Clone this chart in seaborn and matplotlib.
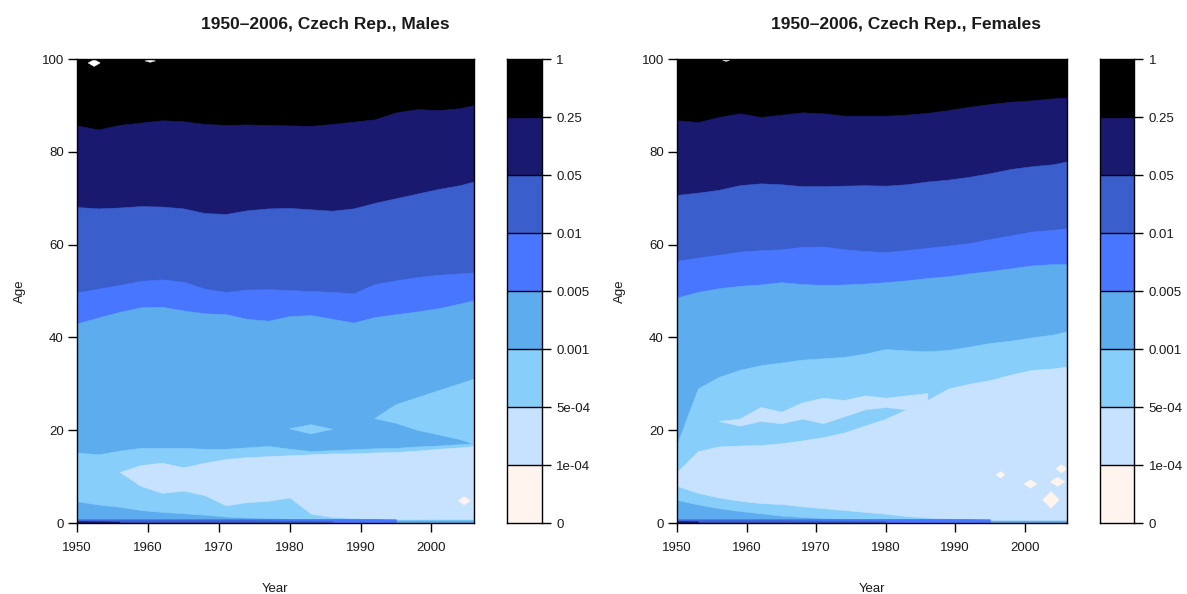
import numpy as np
import matplotlib
matplotlib.use("Agg")
import matplotlib.pyplot as plt
from matplotlib.colors import ListedColormap
import seaborn as sns

sns.set_style("white")
plt.rcParams["font.family"] = ["Liberation Sans", "DejaVu Sans"]

# ---------------------------------------------------------------------------
# Mortality-rate classes (lowest to highest) and their fill colours
level_labels = ["0", "1e-04", "5e-04", "0.001", "0.005", "0.01", "0.05", "0.25", "1"]
level_colors = ["#FFF5EE", "#C6E2FF", "#87CEFA", "#5CACEE",
                "#4876FF", "#3A5FCD", "#191970", "#000000"]

years = [1950, 1953, 1956, 1959, 1962, 1965, 1968, 1971, 1974, 1977,
         1980, 1983, 1986, 1989, 1992, 1995, 1998, 2001, 2004, 2006]
nan = np.nan

# ---- Males: age at which each rate class begins (per year) --------------
m_black_lo = [85.7, 84.8, 85.8, 86.3, 86.8, 86.6, 86.0, 85.8, 85.9, 85.8,
              85.7, 85.6, 86.0, 86.5, 87.0, 88.5, 89.2, 89.0, 89.4, 90.1]
m_mid_lo = [68.1, 67.8, 68.0, 68.3, 68.2, 67.8, 66.8, 66.6, 67.4, 67.8,
            67.9, 67.6, 67.3, 67.8, 69.0, 70.0, 71.0, 72.0, 72.8, 73.6]
m_rb3_lo = [49.7, 50.5, 51.3, 52.2, 52.5, 52.0, 50.5, 49.8, 50.3, 50.4,
            50.2, 50.0, 49.8, 49.5, 51.5, 52.3, 53.0, 53.5, 53.8, 54.0]
m_rb1_lo = [43.0, 44.3, 45.5, 46.5, 46.6, 45.8, 45.2, 45.0, 44.0, 43.6,
            44.6, 44.8, 44.0, 43.2, 44.4, 45.0, 45.6, 46.3, 47.3, 48.0]
# youth band, 5e-04 .. 0.001
m_lsb_lo = [4.7, 4.0, 3.5, 2.8, 2.4, 2.1, 1.8, 1.4, 1.2, 1.1,
            0.9, 0.8, 0.7, 0.7, 0.7, 0.7, 0.7, 0.7, 0.7, 0.7]
m_lsb_hi = [15.2, 14.8, 15.6, 16.2, 16.2, 16.2, 16.0, 16.0, 16.3, 16.6,
            16.0, 15.5, 15.7, 15.9, 16.1, 16.2, 16.5, 16.7, 17.0, 17.2]
# young-adult patches, 5e-04 .. 0.001
m_lsb2_lo = [nan, nan, nan, nan, nan, nan, nan, nan, nan, nan,
             20.3, 19.2, 20.2, nan, 22.5, 21.5, 20.0, 19.0, 18.0, 17.0]
m_lsb2_hi = [nan, nan, nan, nan, nan, nan, nan, nan, nan, nan,
             20.3, 21.2, 20.2, nan, 22.5, 25.5, 27.0, 28.5, 30.0, 31.0]
# childhood band, 1e-04 .. 5e-04
m_lb_lo = [nan, nan, 11.0, 8.0, 6.5, 7.0, 6.0, 3.8, 4.5, 4.8,
           5.5, 2.0, 1.3, 1.1, 0.9, 0.8, 0.8, 0.9, 0.9, 0.9]
m_lb_hi = [nan, nan, 11.0, 12.5, 13.0, 12.0, 13.0, 13.8, 14.2, 14.4,
           14.6, 14.8, 15.0, 15.0, 15.2, 15.3, 15.6, 16.0, 16.3, 16.6]
m_lb2_lo = [nan] * 20
m_lb2_hi = [nan] * 20
# infant strip (age 0) for the three darker classes
m_inf_rb1 = [0.9, 0.9, 0.9, 0.9, 0.9, 0.9, 0.9, 0.9, 0.9, 0.9,
             0.9, 0.9, 0.9, 0.9, 0.9, 0.8, nan, nan, nan, nan]
m_inf_rb3 = [0.6, 0.6, 0.6, 0.6, 0.6, 0.6, 0.6, 0.6, 0.6, 0.55,
             0.5, 0.5, 0.4, nan, nan, nan, nan, nan, nan, nan]
m_inf_mid = [0.4, 0.35, 0.3, nan, nan, nan, nan, nan, nan, nan,
             nan, nan, nan, nan, nan, nan, nan, nan, nan, nan]
# isolated cells below 1e-04: (first year, last year, age from, age to)
m_low_cells = [(2003.7, 2005.4, 4.0, 5.8)]
# cells without data at the oldest ages
m_missing_cells = [(1951.5, 1953.2, 98.5, 100.0), (1959.5, 1961.0, 99.4, 100.0)]

# ---- Females --------------------------------------------------------------
f_black_lo = [86.8, 86.4, 87.5, 88.3, 87.5, 88.0, 88.5, 88.3, 87.8, 87.8,
              87.8, 88.0, 88.4, 89.0, 89.7, 90.3, 90.8, 91.1, 91.5, 91.7]
f_mid_lo = [70.7, 71.2, 71.8, 72.8, 73.2, 73.0, 72.6, 72.6, 72.7, 72.8,
            72.7, 73.0, 73.6, 74.0, 74.6, 75.4, 76.3, 76.9, 77.3, 77.9]
f_rb3_lo = [56.5, 57.2, 57.8, 58.5, 58.8, 59.0, 59.5, 59.6, 59.0, 58.6,
            58.4, 58.8, 59.3, 59.8, 60.3, 61.2, 62.0, 62.8, 63.2, 63.5]
f_rb1_lo = [48.6, 49.8, 50.6, 51.1, 51.4, 51.9, 51.5, 51.3, 51.4, 51.6,
            51.9, 52.3, 52.8, 53.2, 53.8, 54.3, 54.9, 55.5, 55.8, 55.8]
f_lsb_lo = [5.0, 4.0, 3.2, 2.6, 2.1, 1.6, 1.3, 1.1, 0.9, 0.8,
            0.7, 0.7, 0.7, 0.7, 0.7, 0.7, 0.7, 0.7, 0.7, 0.7]
f_lsb_hi = [17.0, 29.0, 31.5, 33.0, 34.0, 34.6, 35.2, 35.5, 35.8, 36.5,
            37.5, 37.2, 37.0, 37.3, 38.0, 38.8, 39.3, 40.0, 40.6, 41.3]
f_lsb2_lo = [nan] * 20
f_lsb2_hi = [nan] * 20
f_lb_lo = [8.0, 6.5, 5.5, 4.8, 4.3, 4.1, 3.6, 3.2, 2.8, 2.4,
           2.0, 1.5, 1.2, 1.0, 0.8, 0.7, 0.7, 0.7, 0.7, 0.7]
f_lb_hi = [11.0, 15.5, 16.5, 16.7, 16.8, 17.2, 17.8, 18.5, 19.5, 21.0,
           22.5, 24.5, 26.5, 29.0, 30.0, 30.8, 32.0, 33.0, 33.3, 33.7]
# scattered 1e-04 .. 5e-04 cells among ages 20-28
f_lb2_lo = [nan, nan, 22.0, 21.0, 22.0, 21.5, 22.5, 21.5, 23.0, 24.5,
            25.0, 24.5, 26.5, nan, nan, nan, nan, nan, nan, nan]
f_lb2_hi = [nan, nan, 22.0, 22.5, 25.0, 24.0, 26.0, 27.0, 26.5, 27.5,
            27.0, 27.5, 28.0, nan, nan, nan, nan, nan, nan, nan]
f_inf_rb1 = [0.9, 0.9, 0.9, 0.9, 0.9, 0.9, 0.9, 0.9, 0.9, 0.9,
             0.9, 0.9, 0.9, 0.9, 0.9, 0.8, nan, nan, nan, nan]
f_inf_rb3 = [0.6, 0.6, 0.6, 0.6, 0.6, 0.6, 0.55, 0.5, 0.5, 0.45,
             0.4, nan, nan, nan, nan, nan, nan, nan, nan, nan]
f_inf_mid = [0.4, 0.35, nan, nan, nan, nan, nan, nan, nan, nan,
             nan, nan, nan, nan, nan, nan, nan, nan, nan, nan]
f_low_cells = [(1995.8, 1997.1, 9.8, 11.2), (1999.8, 2001.7, 7.6, 9.4),
               (2002.5, 2004.9, 3.3, 6.9), (2003.6, 2005.7, 8.0, 10.0),
               (2004.4, 2006.0, 10.9, 12.7)]
f_missing_cells = [(1956.5, 1957.5, 99.6, 100.0)]

males = dict(black=m_black_lo, mid=m_mid_lo, rb3=m_rb3_lo, rb1=m_rb1_lo,
             lsb=(m_lsb_lo, m_lsb_hi), lsb2=(m_lsb2_lo, m_lsb2_hi),
             lb=(m_lb_lo, m_lb_hi), lb2=(m_lb2_lo, m_lb2_hi),
             inf=(m_inf_rb1, m_inf_rb3, m_inf_mid),
             low=m_low_cells, missing=m_missing_cells)
females = dict(black=f_black_lo, mid=f_mid_lo, rb3=f_rb3_lo, rb1=f_rb1_lo,
               lsb=(f_lsb_lo, f_lsb_hi), lsb2=(f_lsb2_lo, f_lsb2_hi),
               lb=(f_lb_lo, f_lb_hi), lb2=(f_lb2_lo, f_lb2_hi),
               inf=(f_inf_rb1, f_inf_rb3, f_inf_mid),
               low=f_low_cells, missing=f_missing_cells)

TXT = "#1a1a1a"
TICK_FS = 9.5


def band(ax, lo, hi, color):
    lo = np.asarray(lo, float)
    hi = np.asarray(hi, float)
    ax.fill_between(years, lo, hi, color=color, lw=0.4, ec=color)


def cell(ax, x0, x1, y0, y1, color):
    xs = [x0, (x0 + x1) / 2, x1]
    ax.fill_between(xs, [(y0 + y1) / 2, y0, (y0 + y1) / 2],
                    [(y0 + y1) / 2, y1, (y0 + y1) / 2], color=color, lw=0.3, ec=color)


def draw_surface(ax, d, title, title_x):
    zeros = [0.0] * len(years)
    # stacked from the top class down so the layers share their edges
    band(ax, zeros, [100.0] * len(years), level_colors[7])
    band(ax, zeros, d["black"], level_colors[6])
    band(ax, zeros, d["mid"], level_colors[5])
    band(ax, zeros, d["rb3"], level_colors[4])
    band(ax, zeros, d["rb1"], level_colors[3])
    band(ax, *d["lsb"], level_colors[2])
    band(ax, *d["lsb2"], level_colors[2])
    band(ax, *d["lb"], level_colors[1])
    band(ax, *d["lb2"], level_colors[1])
    for c in d["low"]:
        cell(ax, *c, level_colors[0])
    for c in d["missing"]:
        cell(ax, *c, "white")
    rb1, rb3, mid = d["inf"]
    band(ax, zeros, rb1, level_colors[4])
    band(ax, zeros, rb3, level_colors[5])
    band(ax, zeros, mid, level_colors[6])

    ax.set_xlim(1950, 2006)
    ax.set_ylim(0, 100)
    ax.set_xticks([1950, 1960, 1970, 1980, 1990, 2000])
    ax.set_yticks([0, 20, 40, 60, 80, 100])
    ax.tick_params(axis="both", direction="out", length=6.5, width=1,
                   color="black", labelsize=TICK_FS, labelcolor=TXT,
                   left=True, bottom=True)
    ax.tick_params(axis="x", pad=7)
    ax.tick_params(axis="y", pad=3)
    for s in ax.spines.values():
        s.set_visible(True)
        s.set_color("black")
        s.set_linewidth(1.0)
    ax.set_xlabel("Year", fontsize=TICK_FS, color=TXT, labelpad=21)
    ax.set_ylabel("Age", fontsize=TICK_FS, color=TXT, labelpad=11)
    fig.text(title_x, 1 - 24 / 594, title, ha="center", va="center",
             fontsize=12.5, fontweight="bold", color=TXT)


def draw_key(cax):
    key = np.arange(len(level_colors))[::-1].reshape(-1, 1)
    sns.heatmap(key, ax=cax, cmap=ListedColormap(level_colors), cbar=False,
                vmin=-0.5, vmax=len(level_colors) - 0.5,
                xticklabels=False, yticklabels=False)
    n = len(level_colors)
    for k in range(1, n):
        cax.axhline(k, color="black", lw=1)
    cax.set_yticks(np.arange(n + 1))
    cax.set_yticklabels(level_labels[::-1])
    cax.yaxis.tick_right()
    cax.tick_params(axis="y", direction="out", length=6.5, width=1,
                    color="black", labelsize=TICK_FS, labelcolor=TXT,
                    right=True, left=False, pad=4)
    cax.tick_params(axis="x", bottom=False)
    for s in cax.spines.values():
        s.set_visible(True)
        s.set_color("black")
        s.set_linewidth(1.0)


W, H = 1187, 594
fig = plt.figure(figsize=(W / 100, H / 100), dpi=100)
ax_m = fig.add_axes([77 / W, 71 / H, 397 / W, 464 / H])
cb_m = fig.add_axes([507.5 / W, 71 / H, 34 / W, 464 / H])
ax_f = fig.add_axes([677 / W, 71 / H, 389.5 / W, 464 / H])
cb_f = fig.add_axes([1100 / W, 71 / H, 34 / W, 464 / H])

draw_surface(ax_m, males, "1950\u20132006, Czech Rep., Males", 325 / W)
draw_surface(ax_f, females, "1950\u20132006, Czech Rep., Females", 906 / W)
draw_key(cb_m)
draw_key(cb_f)

fig.savefig("out.png", dpi=100, facecolor="white")
